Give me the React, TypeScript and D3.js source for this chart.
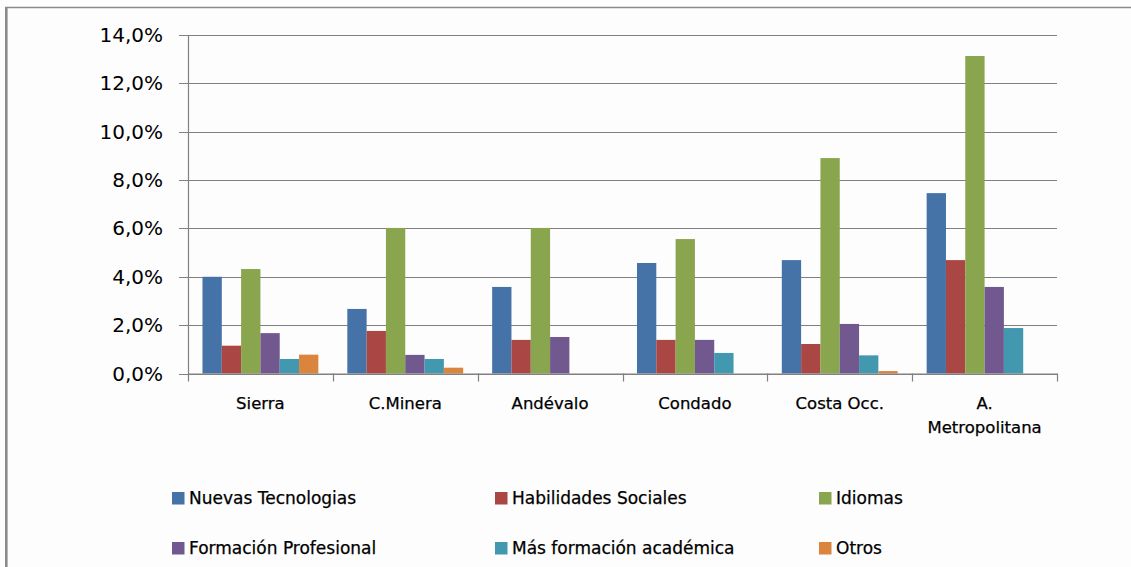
import React from "react";
import * as d3 from "d3";

const categories: string[][] = [["Sierra"], ["C.Minera"], ["Andévalo"], ["Condado"], ["Costa Occ."], ["A.", "Metropolitana"]];
const seriesNames = ["Nuevas Tecnologias", "Habilidades Sociales", "Idiomas", "Formación Profesional", "Más formación académica", "Otros"];
const seriesColors = ["#4572A7", "#AA4643", "#89A54E", "#71588F", "#4198AF", "#DB843D"];
const nuevasTecnologias = [4.0, 2.67, 3.58, 4.57, 4.69, 7.46];
const habilidadesSociales = [1.15, 1.76, 1.39, 1.39, 1.22, 4.69];
const idiomas = [4.32, 6.02, 6.02, 5.56, 8.91, 13.13];
const formacionProfesional = [1.67, 0.77, 1.51, 1.39, 2.05, 3.58];
const masFormacion = [0.6, 0.6, 0, 0.85, 0.75, 1.88];
const otros = [0.78, 0.24, 0, 0, 0.1, 0];
const yTicks = [0, 2, 4, 6, 8, 10, 12, 14];

const seriesValues = [nuevasTecnologias, habilidadesSociales, idiomas, formacionProfesional, masFormacion, otros];

const W = 1131, H = 567;
const plotL = 188, plotR = 1057, plotT = 35, plotB = 373.5;
const FONT = "'DejaVu Sans', Verdana, sans-serif";
const GRID = "#808080";

export default function App() {
  const catKeys = categories.map((c) => c.join(" "));
  const x0 = d3.scaleBand<string>().domain(catKeys).range([plotL, plotR]).paddingInner(0).paddingOuter(0);
  const x1 = d3.scaleBand<number>().domain(d3.range(seriesNames.length)).range([0, x0.bandwidth()]).paddingOuter(0.75).paddingInner(0);
  const y = d3.scaleLinear().domain([0, 14]).range([plotB, plotT]);

  const fmt = (v: number) => v.toFixed(1).replace(".", ",") + "%";

  const legendCols = [172, 495, 819];
  const legendRows = [498, 548];

  return (
    <svg width={W} height={H} style={{ position: "absolute", left: 0, top: 0, background: "#fdfdfd" }}>
      <rect x={0} y={0} width={W} height={H} fill="#fdfdfd" />
      {/* frame */}
      <line x1={5} x2={W} y1={7.5} y2={7.5} stroke="#8a8a8a" strokeWidth={1.5} />
      <line x1={6.3} x2={6.3} y1={7} y2={H} stroke="#8a8a8a" strokeWidth={2.6} />

      {/* gridlines & y ticks */}
      {yTicks.map((t) => (
        <g key={t}>
          <line x1={179} x2={plotR} y1={Math.round(y(t)) + 0.5} y2={Math.round(y(t)) + 0.5} stroke={GRID} strokeWidth={1.2} />
          <text x={163} y={y(t)} textAnchor="end" dominantBaseline="central" fontFamily={FONT} fontSize={20} fill="#000">
            {fmt(t)}
          </text>
        </g>
      ))}
      {/* y axis */}
      <line x1={plotL + 0.5} x2={plotL + 0.5} y1={plotT} y2={plotB + 8} stroke={GRID} strokeWidth={1.2} />
      {/* x ticks */}
      {catKeys.map((k) => (
        <line key={k} x1={Math.round(x0(k)! + x0.bandwidth()) + 0.5} x2={Math.round(x0(k)! + x0.bandwidth()) + 0.5} y1={plotB} y2={plotB + 8} stroke={GRID} strokeWidth={1.2} />
      ))}

      {/* bars */}
      {catKeys.map((k, ci) => (
        <g key={k} transform={`translate(${x0(k)},0)`}>
          {seriesValues.map((vals, si) =>
            vals[ci] > 0 ? (
              <rect key={si} x={x1(si)} y={y(vals[ci])} width={x1.bandwidth()} height={plotB - y(vals[ci])} fill={seriesColors[si]} />
            ) : null
          )}
        </g>
      ))}
      {/* x axis line on top */}
      <line x1={plotL} x2={plotR} y1={plotB + 0.5} y2={plotB + 0.5} stroke={GRID} strokeWidth={1.2} />

      {/* category labels */}
      {categories.map((lines, i) => (
        <text key={i} x={x0(catKeys[i])! + x0.bandwidth() / 2} y={403} textAnchor="middle" dominantBaseline="central" fontFamily={FONT} fontSize={16.5} fill="#000" stroke="#000" strokeWidth={0.25}>
          {lines.map((l, j) => (
            <tspan key={j} x={x0(catKeys[i])! + x0.bandwidth() / 2} dy={j === 0 ? 0 : 24}>
              {l}
            </tspan>
          ))}
        </text>
      ))}

      {/* legend */}
      {seriesNames.map((name, i) => {
        const cx = legendCols[i % 3];
        const cy = legendRows[Math.floor(i / 3)];
        return (
          <g key={name}>
            <rect x={cx} y={cy - 6} width={12.5} height={12.5} fill={seriesColors[i]} />
            <text x={cx + 17} y={cy} dominantBaseline="central" fontFamily={FONT} fontSize={17} fill="#000" stroke="#000" strokeWidth={0.25}>
              {name}
            </text>
          </g>
        );
      })}
    </svg>
  );
}
